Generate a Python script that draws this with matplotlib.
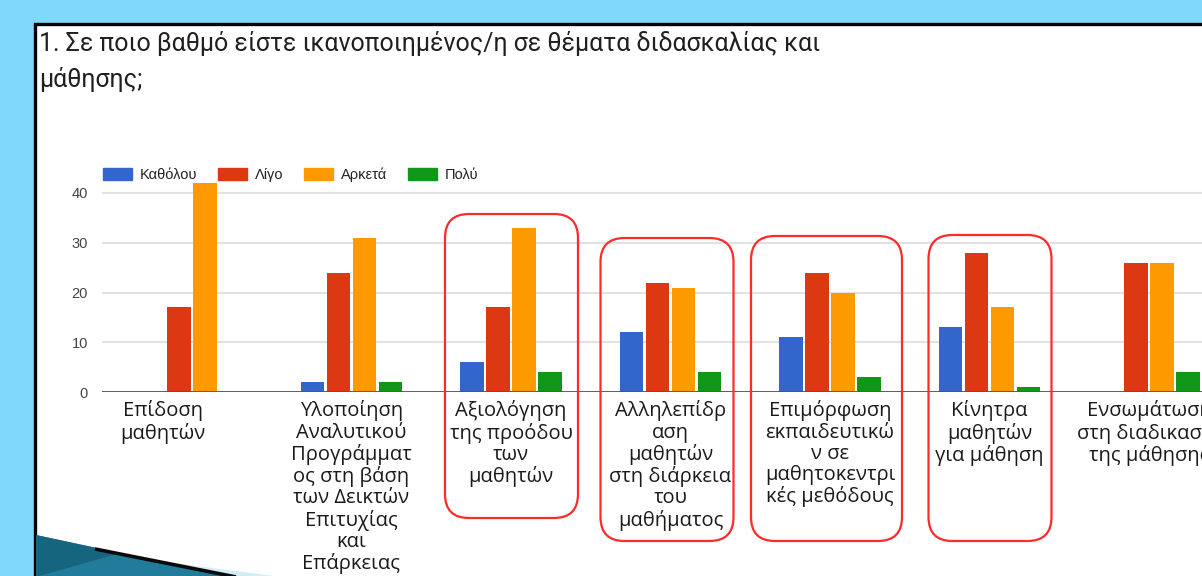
import numpy as np
import matplotlib
matplotlib.use("Agg")
import matplotlib.pyplot as plt
from matplotlib.patches import Rectangle, FancyBboxPatch, Polygon, Patch
from matplotlib.transforms import ScaledTranslation

# data
categories = ["Επίδοση\nμαθητών",
              "Υλοποίηση\nΑναλυτικού\nΠρογράμματ\nος στη βάση\nτων Δεικτών\nΕπιτυχίας\nκαι\nΕπάρκειας",
              "Αξιολόγηση\nτης προόδου\nτων\nμαθητών",
              "Αλληλεπίδρ\nαση\nμαθητών\nστη διάρκεια\nτου\nμαθήματος",
              "Επιμόρφωση\nεκπαιδευτικώ\nν σε\nμαθητοκεντρι\nκές μεθόδους",
              "Κίνητρα\nμαθητών\nγια μάθηση",
              "Ενσωμάτωση\nστη διαδικασία\nτης μάθησης"]
series = ["Καθόλου", "Λίγο", "Αρκετά", "Πολύ"]
katholou = [0, 2, 6, 12, 11, 13, 0]
ligo = [17, 24, 17, 22, 24, 28, 26]
arketa = [42, 31, 33, 21, 20, 17, 26]
poly = [0, 2, 4, 4, 3, 1, 4]
yticks = [0, 10, 20, 30, 40]
highlighted = [2, 3, 4, 5]

colors = ["#3366cc", "#dc3912", "#ff9900", "#109618"]
W, H = 1202, 576

fig = plt.figure(figsize=(W / 100, H / 100), dpi=100)
fig.patch.set_facecolor("#80d8fa")

# background layer in pixel coords (white slide panel)
bg = fig.add_axes([0, 0, 1, 1], zorder=0)
bg.set_xlim(0, W)
bg.set_ylim(H, 0)
bg.axis("off")
bg.add_patch(Rectangle((34.5, 23.5), 1400, 800, facecolor="white",
                       edgecolor="black", lw=2.4))

title_font = ["Roboto", "DejaVu Sans"]
fig.text(39 / W, 1 - 44 / H, "1. Σε ποιο βαθμό είστε ικανοποιημένος/η σε θέματα διδασκαλίας και",
         fontsize=17.9, family=title_font, color="#202020", va="center")
fig.text(39 / W, 1 - 79 / H, "μάθησης;",
         fontsize=17.9, family=title_font, color="#202020", va="center")

# chart
x0, step = 192, 159.5
left = -(x0 - 102) / step
right = 7.5
ymax = 44
ax = fig.add_axes([102 / W, (H - 392) / H, (right - left) * step / W, ymax * 4.975 / H], zorder=1)
ax.set_facecolor("none")

x = np.arange(len(categories))
bw = 0.15
gap = 0.163
for k, (vals, name) in enumerate(zip([katholou, ligo, arketa, poly], series)):
    ax.bar(x + (k - 1.5) * gap, vals, width=bw, color=colors[k], lw=0, label=name, zorder=3)

ax.set_xlim(left, right)
ax.set_ylim(0, ymax)
ax.set_yticks(yticks)
ax.yaxis.grid(True, color="#e2e2e2", lw=1.5, zorder=0)
ax.axhline(0, color="#555555", lw=1.3, zorder=4)
for s in ax.spines.values():
    s.set_visible(False)
ax.tick_params(axis="both", length=0)
ax.tick_params(axis="y", pad=10, labelsize=10.5, labelcolor="#444444")
for t in ax.get_yticklabels():
    t.set_family(["Liberation Sans", "DejaVu Sans"])
ax.set_xticks(x)
ax.set_xticklabels(categories, fontsize=14.5, family=["Open Sans", "DejaVu Sans"],
                   color="#1a1a1a", linespacing=1.08, va="top")
ax.tick_params(axis="x", pad=6)
first = ax.get_xticklabels()[0]
first.set_transform(first.get_transform() + ScaledTranslation(-0.29, 0, fig.dpi_scale_trans))

handles = [Patch(color=c) for c in colors]
ax.legend(handles, series, ncol=4, loc="lower left", frameon=False,
          bbox_to_anchor=(103 / W, 1 - 182 / H), bbox_transform=fig.transFigure,
          prop={"family": ["Liberation Sans", "DejaVu Sans"], "size": 10.5},
          handlelength=2.0, handleheight=0.85, handletextpad=0.5,
          columnspacing=1.45, borderpad=0, borderaxespad=0, labelcolor="#222222")

# overlay: red highlight boxes and slide decoration
ov = fig.add_axes([0, 0, 1, 1], zorder=5)
ov.set_xlim(0, W)
ov.set_ylim(H, 0)
ov.axis("off")
ov.patch.set_alpha(0)

box_tops = [214, 238, 236, 235]
box_bottoms = [518, 541, 541, 541]
box_half = [[66, 67], [70, 63], [79, 72], [61, 62]]
for i, top, bot, (hl, hr) in zip(highlighted, box_tops, box_bottoms, box_half):
    cx = x0 + step * i
    ov.add_patch(FancyBboxPatch((cx - hl, top), hl + hr, bot - top,
                                boxstyle="round,pad=0,rounding_size=24",
                                facecolor="none", edgecolor="#ff2a2a", lw=1.6))

# corner swoosh of the slide template
ov.add_patch(Polygon([(150, 560), (282, 577), (240, 577)],
                     closed=True, facecolor="#d4ecf5", edgecolor="none"))
ov.add_patch(Polygon([(36, 535), (232, 577), (36, 577)],
                     closed=True, facecolor="#217b9b", edgecolor="none"))
ov.add_patch(Polygon([(36, 535), (120, 553), (36, 577)],
                     closed=True, facecolor="#16657f", edgecolor="none"))
ov.plot([95, 236], [549, 577], color="#0a0a0a", lw=2.6, solid_capstyle="butt")

fig.savefig("out.png", dpi=100)
